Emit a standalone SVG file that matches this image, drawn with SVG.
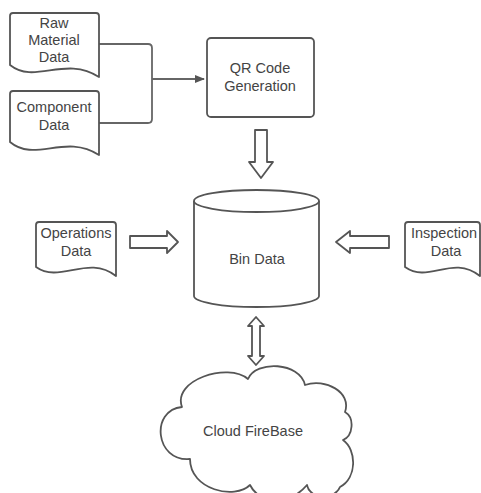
<svg xmlns="http://www.w3.org/2000/svg" width="481" height="493" viewBox="0 0 481 493">
<style>
.s{fill:#fff;stroke:#555;stroke-width:1.8;stroke-linejoin:round}
.t{font-family:"Liberation Sans",Arial,sans-serif;font-size:14.5px;fill:#444;text-anchor:middle}
.c{fill:none;stroke:#666;stroke-width:1.8}
</style>
<defs>
<marker id="ah" markerWidth="10" markerHeight="10" refX="9" refY="5" orient="auto" markerUnits="userSpaceOnUse">
<path d="M0,1 L10,5 L0,9 Z" fill="#555"/>
</marker>
</defs>
<rect width="481" height="493" fill="#fff"/>
<g id="connectors">
<path class="c" d="M99,44 H148 Q152,44 152,48 V79" />
<path class="c" d="M99,123 H148 Q152,123 152,119 V79" />
<path class="c" d="M152,79 H204" marker-end="url(#ah)"/>
<path class="s" d="M255,130 H267 V162 H273 L261,178 L249,162 H255 Z"/>
<path class="s" d="M130,236 H167 V231 L178,242 L167,253 V248 H130 Z"/>
<path class="s" d="M389,236 H350 V231 L336,242 L350,253 V248 H389 Z"/>
<path class="s" d="M256,317 L264,326 H260 V356 H264 L256,365 L248,356 H252 V326 H248 Z"/>
</g>
<g id="raw">
<path class="s" d="M10,65 V16 Q10,13 13,13 H96 Q99,13 99,16 V77 C65,55 35,85 10,65 Z"/>
<text class="t" x="54" y="28">Raw</text>
<text class="t" x="54" y="45">Material</text>
<text class="t" x="54" y="62">Data</text>
</g>
<g id="component">
<path class="s" d="M10,142 V94 Q10,91 13,91 H96 Q99,91 99,94 V155 C65,133 35,163 10,142 Z"/>
<text class="t" x="54" y="112">Component</text>
<text class="t" x="54" y="130">Data</text>
</g>
<g id="qr">
<rect class="s" x="207" y="38" width="107" height="79" rx="4"/>
<text class="t" x="260" y="73">QR Code</text>
<text class="t" x="260" y="91">Generation</text>
</g>
<g id="bin">
<path class="s" d="M194,201 V296 A62.5,11 0 0 0 319,296 V201"/>
<ellipse class="s" cx="256.5" cy="201" rx="62.5" ry="11"/>
<text class="t" x="257" y="264">Bin Data</text>
</g>
<g id="operations">
<path class="s" d="M36,267 V225 Q36,222 39,222 H113 Q116,222 116,225 V276 C88,254 60,284 36,267 Z"/>
<text class="t" x="76" y="238">Operations</text>
<text class="t" x="76" y="256">Data</text>
</g>
<g id="inspection">
<path class="s" d="M405,267 V225 Q405,222 408,222 H477 Q480,222 480,225 V276 C452,254 429,284 405,267 Z"/>
<text class="t" x="444" y="238">Inspection</text>
<text class="t" x="446" y="256">Data</text>
</g>
<g id="cloud">
<path class="s" d="M182,407 C172,380 228,362 248,379 C256,360 300,362 305,385 C325,378 352,392 345,412 C355,418 353,436 343,440 C357,450 357,478 340,487 C335,500 310,500 307,485 C290,505 260,505 250,485 C235,500 190,490 190,459 C155,462 150,410 182,407 Z"/>
<text class="t" x="253" y="436">Cloud FireBase</text>
</g>
</svg>
